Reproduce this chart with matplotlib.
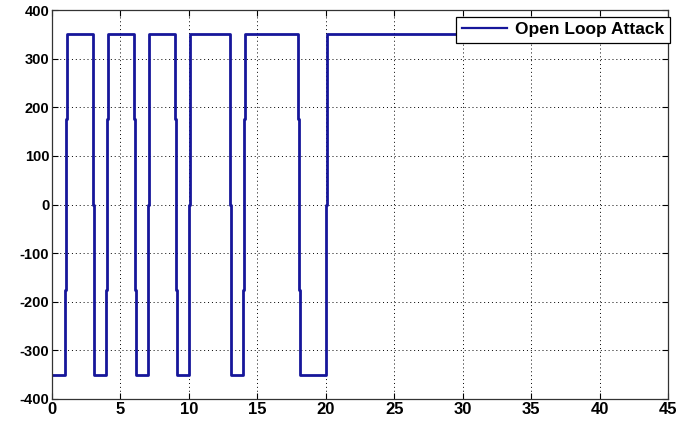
import matplotlib
matplotlib.use("Agg")
import matplotlib.pyplot as plt

# Signal as a staircase (time, value) - value holds from each time until the next
times = [0, 0.96, 1.0, 1.04, 1.08, 3.0, 3.1, 3.96, 4.0, 4.04, 4.08,
         6.0, 6.04, 6.08, 6.12, 7.0, 7.06, 9.0, 9.04, 9.08, 9.12,
         9.98, 10.02, 10.06, 10.1, 13.0, 13.1, 13.96, 14.0, 14.04, 14.08,
         18.0, 18.03, 18.06, 18.09, 20.0, 20.06, 45]
values = [-350, -175, 0, 175, 350, 0, -350, -175, 0, 175, 350,
          175, 0, -175, -350, 0, 350, 175, 0, -175, -350,
          -175, 0, 175, 350, 0, -350, -175, 0, 175, 350,
          175, 0, -175, -350, 0, 350, 350]

xticks = [0, 5, 10, 15, 20, 25, 30, 35, 40, 45]
yticks = [-400, -300, -200, -100, 0, 100, 200, 300, 400]
series_label = "Open Loop Attack"

plt.rcParams['font.family'] = ['Liberation Sans', 'DejaVu Sans']

fig = plt.figure(figsize=(6.87, 4.25), dpi=100)
ax = fig.add_axes([52/687, 26/425, 616/687, 389/425])

ax.step(times, values, where='post', color='#16169a', linewidth=2.0,
        label=series_label)

ax.set_xlim(0, 45)
ax.set_ylim(-400, 400)
ax.set_xticks(xticks)
ax.set_yticks(yticks)
ax.set_xticklabels([str(v) for v in xticks], fontsize=12, fontweight='bold')
ax.set_yticklabels([str(v) for v in yticks], fontsize=10.5, fontweight='bold')
ax.tick_params(direction='in', length=4, width=0.8, top=True, right=True,
               pad=2, colors='black')
ax.grid(True, linestyle=(0, (1, 3)), color='black', linewidth=0.7)
for s in ax.spines.values():
    s.set_linewidth(0.9)
    s.set_color('#333333')

leg = ax.legend(loc='upper right', bbox_to_anchor=(1.003, 0.982),
                borderaxespad=0, fancybox=False, framealpha=1,
                edgecolor='black', handlelength=2.6, handletextpad=0.5,
                borderpad=0.3, prop={'weight': 'bold', 'size': 12.5})
leg.get_frame().set_linewidth(0.9)
leg.get_lines()[0].set_linewidth(1.6)

fig.savefig("out.png", dpi=100)
